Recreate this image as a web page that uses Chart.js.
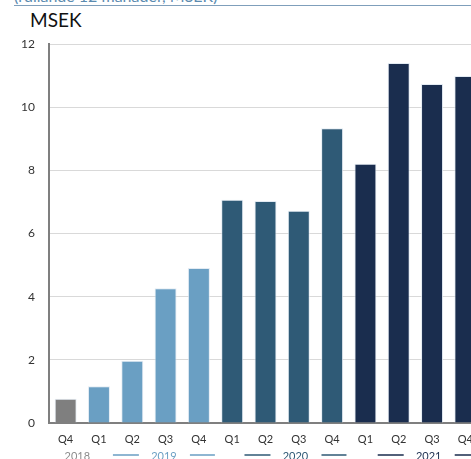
<!DOCTYPE html>
<html>
<head>
<meta charset="utf-8">
<script src="https://cdn.jsdelivr.net/npm/chart.js@4"></script>
<style>
  html, body { margin: 0; padding: 0; overflow: hidden; background: #fff; }
  #wrap { position: relative; width: 500px; height: 459px; }
  #top { position: absolute; left: 14px; top: -14px; font: 16px Lato, sans-serif; color: #5b8bb0; white-space: nowrap; }
  #rule { position: absolute; left: 14px; top: 5px; width: 480px; height: 1px; background: #7f9fbb; }
  #unit { position: absolute; left: 30px; top: 8px; font: 19px Lato, sans-serif; color: #111; }
  canvas { position: absolute; left: 0; top: 0; }
</style>
</head>
<body>
<div id="wrap">
  <div id="top">(rullande 12 månader, MSEK)</div>
  <div id="rule"></div>
  <div id="unit">MSEK</div>
  <canvas id="chart" width="500" height="459"></canvas>
</div>
<script>
let quarters = ['Q4', 'Q1', 'Q2', 'Q3', 'Q4', 'Q1', 'Q2', 'Q3', 'Q4', 'Q1', 'Q2', 'Q3', 'Q4'];
let values = [0.77, 1.16, 1.97, 4.27, 4.91, 7.07, 7.03, 6.72, 9.33, 8.21, 11.40, 10.73, 10.99];
let barColors = ['#7f7f7f',
    '#6a9fc3', '#6a9fc3', '#6a9fc3', '#6a9fc3',
    '#2f5a76', '#2f5a76', '#2f5a76', '#2f5a76',
    '#1a2d4e', '#1a2d4e', '#1a2d4e', '#1a2d4e'];
let years = ['2018', '2019', '2020', '2021'];
let yearAt = [0.35, 2.95, 6.9, 10.9];   // category index the year label sits under
let yearColors = ['#8c8c8c', '#6a9fc3', '#2f5a76', '#1a2d4e'];
let yearLines = [false, true, true, true];

const yearRow = {
    id: 'yearRow',
    afterDraw(chart) {
        const ctx = chart.ctx;
        const x = chart.scales.x;
        const y = 456;
        ctx.save();
        ctx.font = '11px Lato, sans-serif';
        ctx.textAlign = 'center';
        ctx.textBaseline = 'middle';
        years.forEach((yr, i) => {
            const c = x.getPixelForValue(yearAt[i]);
            ctx.fillStyle = yearColors[i];
            ctx.fillText(yr, c, y);
            if (yearLines[i]) {
                ctx.strokeStyle = yearColors[i];
                ctx.lineWidth = 1.5;
                ctx.beginPath();
                ctx.moveTo(c - 51, y - 1); ctx.lineTo(c - 25, y - 1);
                ctx.moveTo(c + 26, y - 1); ctx.lineTo(c + 51, y - 1);
                ctx.stroke();
            }
        });
        ctx.restore();
    }
};

new Chart(document.getElementById('chart'), {
    type: 'bar',
    data: {
        labels: quarters,
        datasets: [
            {
                data: values,
                backgroundColor: barColors,
                borderColor: 'rgba(220, 230, 240, 0.8)',
                borderWidth: 1,
                categoryPercentage: 1,
                barPercentage: 0.66
            }
        ]
    },
    plugins: [yearRow],
    options: {
        responsive: false,
        animation: false,
        layout: { padding: { top: 44, right: 18, left: 0, bottom: 0 } },
        plugins: {
            legend: { display: false },
            tooltip: { enabled: false }
        },
        scales: {
            x: {
                grid: { display: false, drawTicks: false },
                border: { color: '#7f7f7f', width: 2 },
                ticks: {
                    color: '#333',
                    font: { family: 'Lato', size: 11 },
                    padding: 10,
                    maxRotation: 0,
                    autoSkip: false
                },
                afterFit(scale) { scale.height = 36; }
            },
            y: {
                min: 0,
                max: 12,
                grid: { color: '#d9d9d9', drawTicks: false },
                border: { color: '#7f7f7f', width: 2 },
                ticks: {
                    stepSize: 2,
                    color: '#333',
                    font: { family: 'Lato', size: 12 },
                    padding: 14
                },
                afterFit(scale) { scale.width = 49; }
            }
        }
    }
});
</script>
</body>
</html>
